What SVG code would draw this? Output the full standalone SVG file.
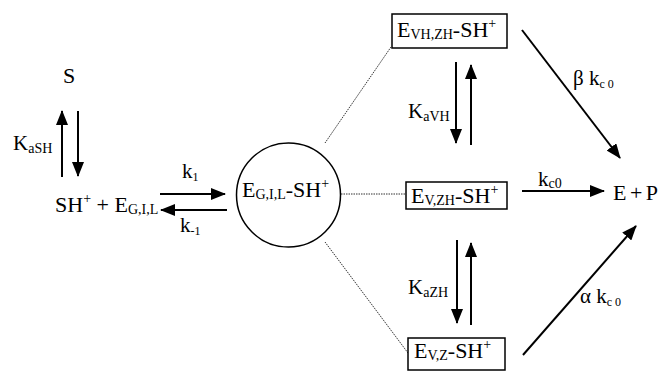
<svg xmlns="http://www.w3.org/2000/svg" width="661" height="371" viewBox="0 0 661 371">
<defs>
<marker id="ah" markerUnits="userSpaceOnUse" markerWidth="15" markerHeight="12" refX="14" refY="6" orient="auto">
<path d="M0,0 L15,6 L0,12 z" fill="#000"/>
</marker>
<style>
text{font-family:"Liberation Serif","Times New Roman",serif;fill:#000;font-size:22px}
.lbl{font-size:21px}
.sub{font-size:14px}
.ssub{font-size:12px}
.arr{stroke:#000;stroke-width:2;fill:none;marker-end:url(#ah)}
.dot{stroke:#333;stroke-width:1;stroke-dasharray:1.5 1;fill:none}
.box{fill:#fff;stroke:#000;stroke-width:1.5}
</style>
</defs>
<rect width="661" height="371" fill="#fff"/>
<g id="connectors">
<line class="dot" x1="325" y1="143" x2="391" y2="47"/>
<line class="dot" x1="341" y1="194" x2="406" y2="194"/>
<line class="dot" x1="325" y1="242" x2="408" y2="353"/>
<line class="arr" x1="62" y1="177" x2="62" y2="111"/>
<line class="arr" x1="78" y1="111" x2="78" y2="176"/>
<line class="arr" x1="160" y1="194" x2="225" y2="194"/>
<line class="arr" x1="227" y1="210" x2="161" y2="210"/>
<line class="arr" x1="456" y1="62" x2="456" y2="143"/>
<line class="arr" x1="471" y1="145" x2="471" y2="65"/>
<line class="arr" x1="457" y1="240" x2="457" y2="323"/>
<line class="arr" x1="471" y1="325" x2="471" y2="243"/>
<line class="arr" x1="522" y1="191" x2="604" y2="191"/>
<line class="arr" x1="522" y1="30" x2="620" y2="158"/>
<line class="arr" x1="523" y1="355" x2="636" y2="226"/>
<text class="lbl" x="13" y="150">K<tspan class="sub" dy="3">aSH</tspan></text>
<text class="lbl" x="182" y="178">k<tspan class="ssub" dy="3">1</tspan></text>
<text class="lbl" x="180" y="232">k<tspan class="ssub" dy="3">-1</tspan></text>
<text class="lbl" x="408" y="118">K<tspan class="sub" dy="3">aVH</tspan></text>
<text class="lbl" x="408" y="294">K<tspan class="sub" dy="3">aZH</tspan></text>
<text class="lbl" x="538" y="186">k<tspan class="sub" dy="2">c0</tspan></text>
<text class="lbl" x="573" y="85">β k<tspan class="ssub" dy="3">c 0</tspan></text>
<text class="lbl" x="580" y="303">α k<tspan class="ssub" dy="3">c 0</tspan></text>
</g>
<g id="S"><text x="63" y="83">S</text></g>
<g id="SH_E"><text x="55" y="212">SH<tspan class="sub" dy="-9">+</tspan><tspan dy="9"> + E</tspan><tspan class="sub" dy="2">G,I,L</tspan></text></g>
<g id="EGIL"><circle cx="288.5" cy="195" r="52" fill="#fff" stroke="#000" stroke-width="1.5"/>
<text x="242" y="197">E<tspan class="sub" dy="2">G,I,L</tspan><tspan dy="-2">-SH</tspan><tspan class="sub" dy="-9">+</tspan></text></g>
<g id="EVHZH"><rect class="box" x="392" y="14" width="115" height="34"/>
<text x="397" y="37">E<tspan class="sub" dy="2">VH,ZH</tspan><tspan dy="-2">-SH</tspan><tspan class="sub" dy="-9">+</tspan></text></g>
<g id="EVZH"><rect class="box" x="406" y="182" width="101" height="27"/>
<text x="411" y="203">E<tspan class="sub" dy="2">V,ZH</tspan><tspan dy="-2">-SH</tspan><tspan class="sub" dy="-9">+</tspan></text></g>
<g id="EVZ"><rect class="box" x="408" y="338" width="97" height="32"/>
<text x="414" y="358">E<tspan class="sub" dy="2">V,Z</tspan><tspan dy="-2">-SH</tspan><tspan class="sub" dy="-9">+</tspan></text></g>
<g id="EP"><text x="613" y="200" textLength="45" lengthAdjust="spacing">E + P</text></g>
</svg>
